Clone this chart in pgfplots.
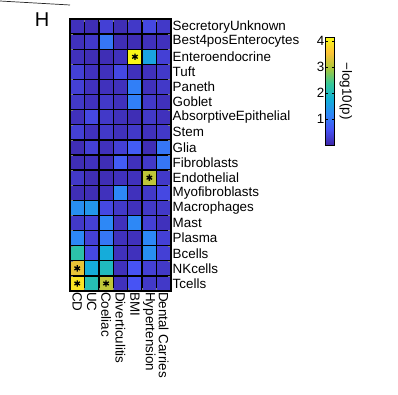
\documentclass[border=0pt]{standalone}
\usepackage{fontspec}
\setmainfont{Liberation Sans}
\usepackage{pgfplots}
\pgfplotsset{compat=1.18}
\usetikzlibrary{calc}
\pgfplotsset{colormap={parula}{
rgb=(0.2422,0.1504,0.6603)
rgb=(0.2810,0.3228,0.9579)
rgb=(0.1786,0.5289,0.9682)
rgb=(0.0689,0.6948,0.8394)
rgb=(0.2161,0.7843,0.5923)
rgb=(0.6720,0.7793,0.2227)
rgb=(0.9970,0.7659,0.2199)
rgb=(0.9769,0.9839,0.0805)
}}
\begin{document}
\begin{tikzpicture}
\path[use as bounding box] (0,0) rectangle (398bp,-395bp);
\draw[line width=0.7bp, black!85] (0,-1bp) -- (70bp,-5bp);
\node[font=\fontsize{20bp}{24bp}\selectfont] at (42bp,-20bp) {H};
\begin{axis}[
 at={(70bp,-291bp)}, anchor=south west,
 scale only axis, width=101bp, height=272bp,
 xmin=-0.5, xmax=6.5, ymin=-0.5, ymax=17.5, y dir=reverse,
 enlargelimits=false,
 colormap name=parula, point meta min=0, point meta max=4.15,
 xtick={0,...,6},
 xticklabels={CD,UC,Coeliac,Diverticulitis,BMI,Hypertension,Dental Carries},
 ytick={0,...,17},
 yticklabels={SecretoryUnknown,Best4posEnterocytes,Enteroendocrine,Tuft,Paneth,Goblet,AbsorptiveEpithelial,Stem,Glia,Fibroblasts,Endothelial,Myofibroblasts,Macrophages,Mast,Plasma,Bcells,NKcells,Tcells},
 yticklabel pos=right,
 major tick length=0pt,
 tick label style={font=\fontsize{13.4bp}{15bp}\selectfont},
 xticklabel style={rotate=-90, anchor=west, inner sep=1bp},
 yticklabel style={anchor=west, inner sep=1.5bp},
 minor xtick={0.5,1.5,...,5.5}, minor ytick={0.5,1.5,...,16.5},
 grid=minor, minor grid style={black, line width=1.3bp},
 axis line style={black, line width=1.3bp},
 axis on top,
 colorbar,
 colorbar style={
   at={($(parent axis.north east)+(146bp,-18bp)$)}, anchor=north west,
   scale only axis, width=8.5bp, height=108bp,
   ytick={1,2,3,4}, yticklabel pos=left,
   /pgf/number format/assume math mode=true,
   yticklabel style={font=\fontsize{13.4bp}{15bp}\selectfont, inner sep=1bp},
   major tick length=2bp, tick style={black, line width=0.5bp},
   axis line style={black, line width=0.8bp},
   ylabel={−log10(p)},
   ylabel style={rotate=180, at={(axis description cs:2.4,0.5)}, anchor=center, font=\fontsize{13.4bp}{15bp}\selectfont},
 },
]
\addplot[matrix plot*, mesh/cols=7, point meta=explicit] table[meta=c] {
x y c
0 0 0.15
1 0 0.1
2 0 0.35
3 0 0.1
4 0 0.25
5 0 0.45
6 0 0.25
0 1 0.15
1 1 0.25
2 1 1.0
3 1 0.1
4 1 0.1
5 1 0.15
6 1 0.15
0 2 0.15
1 2 0.1
2 2 0.1
3 2 0.15
4 2 4.1
5 2 1.6
6 2 0.35
0 3 0.35
1 3 0.15
2 3 0.15
3 3 0.45
4 3 0.15
5 3 0.15
6 3 0.25
0 4 0.35
1 4 0.15
2 4 0.15
3 4 0.15
4 4 1.1
5 4 0.15
6 4 0.25
0 5 0.25
1 5 0.15
2 5 0.25
3 5 0.15
4 5 1.1
5 5 0.25
6 5 0.15
0 6 0.15
1 6 0.45
2 6 0.25
3 6 0.15
4 6 0.1
5 6 0.25
6 6 0.15
0 7 0.35
1 7 0.15
2 7 0.25
3 7 0.15
4 7 0.25
5 7 0.15
6 7 0.25
0 8 0.1
1 8 0.35
2 8 0.15
3 8 0.35
4 8 0.7
5 8 0.1
6 8 1.0
0 9 0.1
1 9 0.15
2 9 0.1
3 9 0.7
4 9 0.15
5 9 0.25
6 9 1.0
0 10 0.25
1 10 0.1
2 10 0.1
3 10 0.15
4 10 0.15
5 10 3.1
6 10 0.25
0 11 0.1
1 11 0.1
2 11 0.15
3 11 1.2
4 11 0.15
5 11 0.25
6 11 0.45
0 12 1.3
1 12 1.4
2 12 0.45
3 12 0.25
4 12 0.15
5 12 0.25
6 12 0.25
0 13 0.25
1 13 0.35
2 13 1.2
3 13 0.15
4 13 1.2
5 13 0.35
6 13 0.15
0 14 1.2
1 14 0.35
2 14 1.0
3 14 0.15
4 14 0.15
5 14 1.2
6 14 0.35
0 15 2.2
1 15 0.45
2 15 1.7
3 15 0.15
4 15 0.15
5 15 1.3
6 15 0.35
0 16 3.4
1 16 1.7
2 16 2.0
3 16 0.15
4 16 0.6
5 16 0.35
6 16 0.25
0 17 3.9
1 17 2.1
2 17 3.1
3 17 0.15
4 17 0.6
5 17 0.25
6 17 0.25
};
\addplot[only marks, mark=asterisk, mark size=3.2bp, mark options={line width=1.3bp, black}] coordinates {(4,2) (5,10) (0,16) (0,17) (2,17)};
\end{axis}
\end{tikzpicture}
\end{document}
